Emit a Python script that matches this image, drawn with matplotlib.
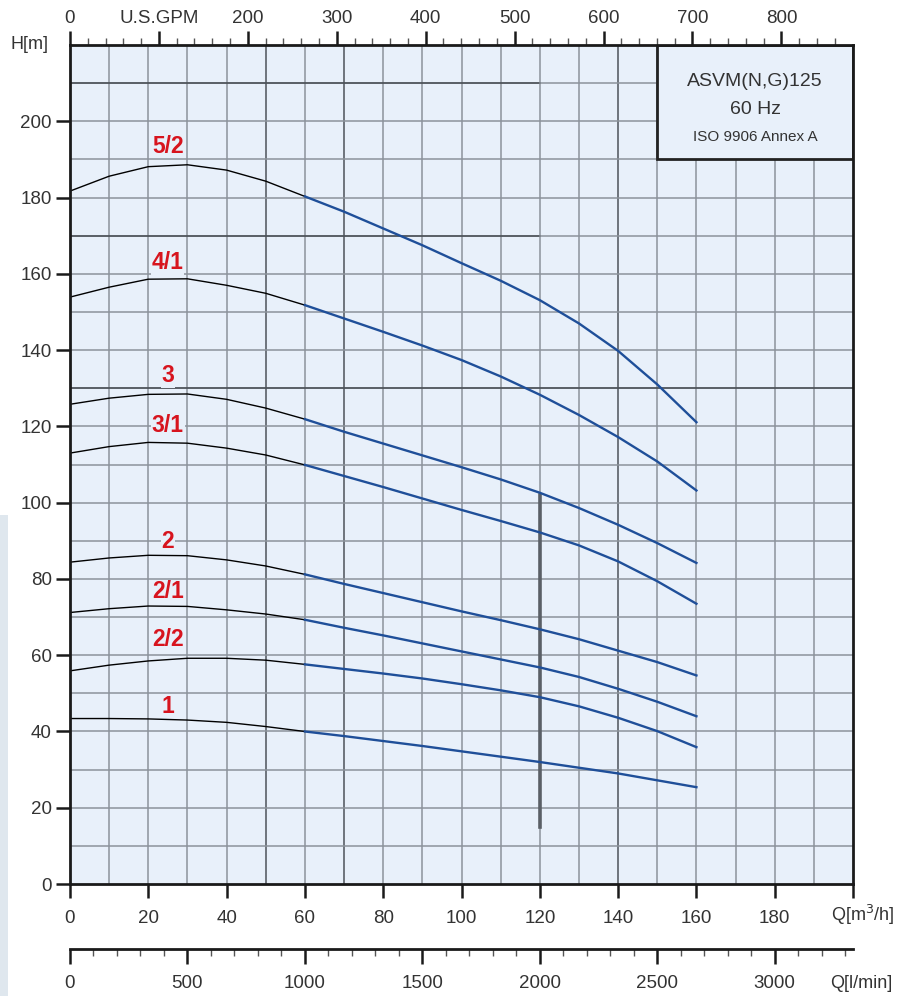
import matplotlib
matplotlib.use("Agg")
import matplotlib.pyplot as plt
from matplotlib.patches import Rectangle
from matplotlib.ticker import FixedLocator, MultipleLocator, FuncFormatter

plt.rcParams['font.family'] = ['Liberation Sans', 'DejaVu Sans']

# flow Q [m3/h]
q = [0, 10, 20, 30, 40, 50, 60, 70, 80, 90, 100, 110, 120, 130, 140, 150, 160]

# head H [m] per impeller variant
h_5_2 = [181.7, 185.6, 188.1, 188.6, 187.2, 184.3, 180.3, 176.3, 171.9, 167.5, 162.8, 158.2, 153.1, 147.0, 139.8, 131.0, 121.1]
h_4_1 = [153.9, 156.5, 158.6, 158.7, 157.0, 154.9, 151.8, 148.3, 144.8, 141.2, 137.4, 133.1, 128.3, 123.0, 117.2, 110.8, 103.2]
h_3 = [125.8, 127.4, 128.4, 128.5, 127.1, 124.8, 121.9, 118.6, 115.5, 112.4, 109.3, 106.1, 102.6, 98.6, 94.2, 89.4, 84.2]
h_3_1 = [113.0, 114.7, 115.8, 115.6, 114.3, 112.5, 109.9, 107.0, 104.1, 101.1, 98.1, 95.2, 92.2, 88.8, 84.6, 79.4, 73.5]
h_2 = [84.4, 85.5, 86.2, 86.1, 85.0, 83.4, 81.2, 78.7, 76.3, 73.9, 71.5, 69.2, 66.8, 64.2, 61.2, 58.2, 54.7]
h_2_1 = [71.2, 72.2, 72.9, 72.8, 71.9, 70.8, 69.3, 67.2, 65.2, 63.1, 61.0, 58.9, 56.8, 54.3, 51.2, 47.8, 44.0]
h_2_2 = [55.9, 57.4, 58.5, 59.2, 59.2, 58.7, 57.6, 56.4, 55.2, 53.9, 52.4, 50.8, 49.0, 46.6, 43.6, 40.1, 35.9]
h_1 = [43.4, 43.4, 43.3, 43.0, 42.4, 41.3, 40.0, 38.8, 37.5, 36.2, 34.8, 33.4, 32.0, 30.5, 29.0, 27.2, 25.4]

curves = [h_5_2, h_4_1, h_3, h_3_1, h_2, h_2_1, h_2_2, h_1]
names = ["5/2", "4/1", "3", "3/1", "2", "2/1", "2/2", "1"]
label_h = [193.5, 163.0, 133.3, 120.3, 89.7, 76.6, 64.0, 46.5]

BG = "#e8f0fa"
GRID = "#8c939b"
DARK = "#4d535a"
BLUE = "#1f4f99"
RED = "#d7141e"

fig = plt.figure(figsize=(8.97, 9.96), dpi=100)
fig.patches.append(Rectangle((0, 0), 0.009, 0.483, transform=fig.transFigure,
                             facecolor="#dfe7ee", edgecolor="none", zorder=0))
ax = fig.add_axes([0.078, 0.1124, 0.873, 0.8424])
ax.set_facecolor(BG)
ax.set_xlim(0, 200)
ax.set_ylim(0, 220)

# grid
for xv in range(10, 200, 10):
    c = DARK if xv in (50, 70, 140) else GRID
    ax.axvline(xv, color=c, lw=1.1, zorder=1)
for yv in range(10, 220, 10):
    if yv in (170, 210):
        ax.plot([0, 120], [yv, yv], color=DARK, lw=1.3, zorder=1)
        ax.plot([120, 200], [yv, yv], color=GRID, lw=1.1, zorder=1)
    else:
        c = DARK if yv == 130 else GRID
        ax.axhline(yv, color=c, lw=1.3 if yv == 130 else 1.1, zorder=1)

ax.plot([120, 120], [15, 102], color="#5a5f66", lw=2.6, zorder=2)

# curves: black up to 60 m3/h, blue beyond
split = q.index(60)
for h, name, lh in zip(curves, names, label_h):
    ax.plot(q[:split + 1], h[:split + 1], color="black", lw=1.0, zorder=4)
    ax.plot(q[split:], h[split:], color=BLUE, lw=1.7, zorder=4)
    ax.text(25, lh, name, color=RED, fontsize=16.5, fontweight="bold",
            ha="center", va="center", zorder=3,
            bbox=dict(facecolor=BG, edgecolor="none", pad=0.5))

# info box
ax.add_patch(Rectangle((150, 190), 50, 30, facecolor=BG, edgecolor="#222222",
                       lw=2.0, zorder=5))
ax.text(175, 210.5, "ASVM(N,G)125", fontsize=14, color="#333333", ha="center", va="center", zorder=6)
ax.text(175, 203.2, "60 Hz", fontsize=14, color="#333333", ha="center", va="center", zorder=6)
ax.text(175, 195.8, "ISO 9906 Annex A", fontsize=11, color="#333333", ha="center", va="center", zorder=6)

for s in ax.spines.values():
    s.set_linewidth(2.0)
    s.set_color("#1a1a1a")
    s.set_zorder(7)

ax.xaxis.set_major_locator(MultipleLocator(20))
ax.xaxis.set_major_formatter(FuncFormatter(lambda v, p: "" if round(v) >= 200 else "%d" % round(v)))
ax.set_yticks(range(0, 201, 20))
ax.tick_params(axis="both", direction="out", length=10, width=1.8, color="#1a1a1a",
               labelsize=13.5, labelcolor="#333333", pad=3)
ax.tick_params(axis="x", pad=9)

# top axis: US GPM
gpm = 4.40287
top = ax.secondary_xaxis("top", functions=(lambda x: x * gpm, lambda g: g / gpm))
top.xaxis.set_major_locator(FixedLocator(list(range(0, 900, 100))))
top.xaxis.set_minor_locator(FixedLocator(list(range(0, 880, 20))))
top.xaxis.set_major_formatter(FuncFormatter(lambda v, p: "U.S.GPM" if round(v) == 100 else "%d" % round(v)))
top.tick_params(which="major", direction="out", length=10, width=1.8, color="#1a1a1a",
                labelsize=13.5, labelcolor="#333333", pad=3)
top.tick_params(which="minor", direction="out", length=5, width=1.0, color="#555555")
top.spines["top"].set_visible(False)

# bottom axis: l/min
lpm = 1000.0 / 60.0
bot = ax.secondary_xaxis(-0.0775, functions=(lambda x: x * lpm, lambda l: l / lpm))
bot.xaxis.set_major_locator(FixedLocator(list(range(0, 3001, 500))))
bot.xaxis.set_minor_locator(FixedLocator(list(range(0, 3301, 100))))
bot.tick_params(which="major", direction="out", length=11, width=1.8, color="#1a1a1a",
                labelsize=13.5, labelcolor="#333333", pad=8)
bot.tick_params(which="minor", direction="out", length=5, width=1.0, color="#555555")
bot.spines["bottom"].set_linewidth(2.0)
bot.spines["bottom"].set_color("#1a1a1a")

fig.text(0.054, 0.955, "H[m]", fontsize=13, color="#333333", ha="right", va="center")
fig.text(0.926, 0.0815, "Q[m$^3$/h]", fontsize=13, color="#333333", ha="left", va="center")
fig.text(0.926, 0.013, "Q[l/min]", fontsize=13, color="#333333", ha="left", va="center")

fig.savefig("out.png", dpi=100)
